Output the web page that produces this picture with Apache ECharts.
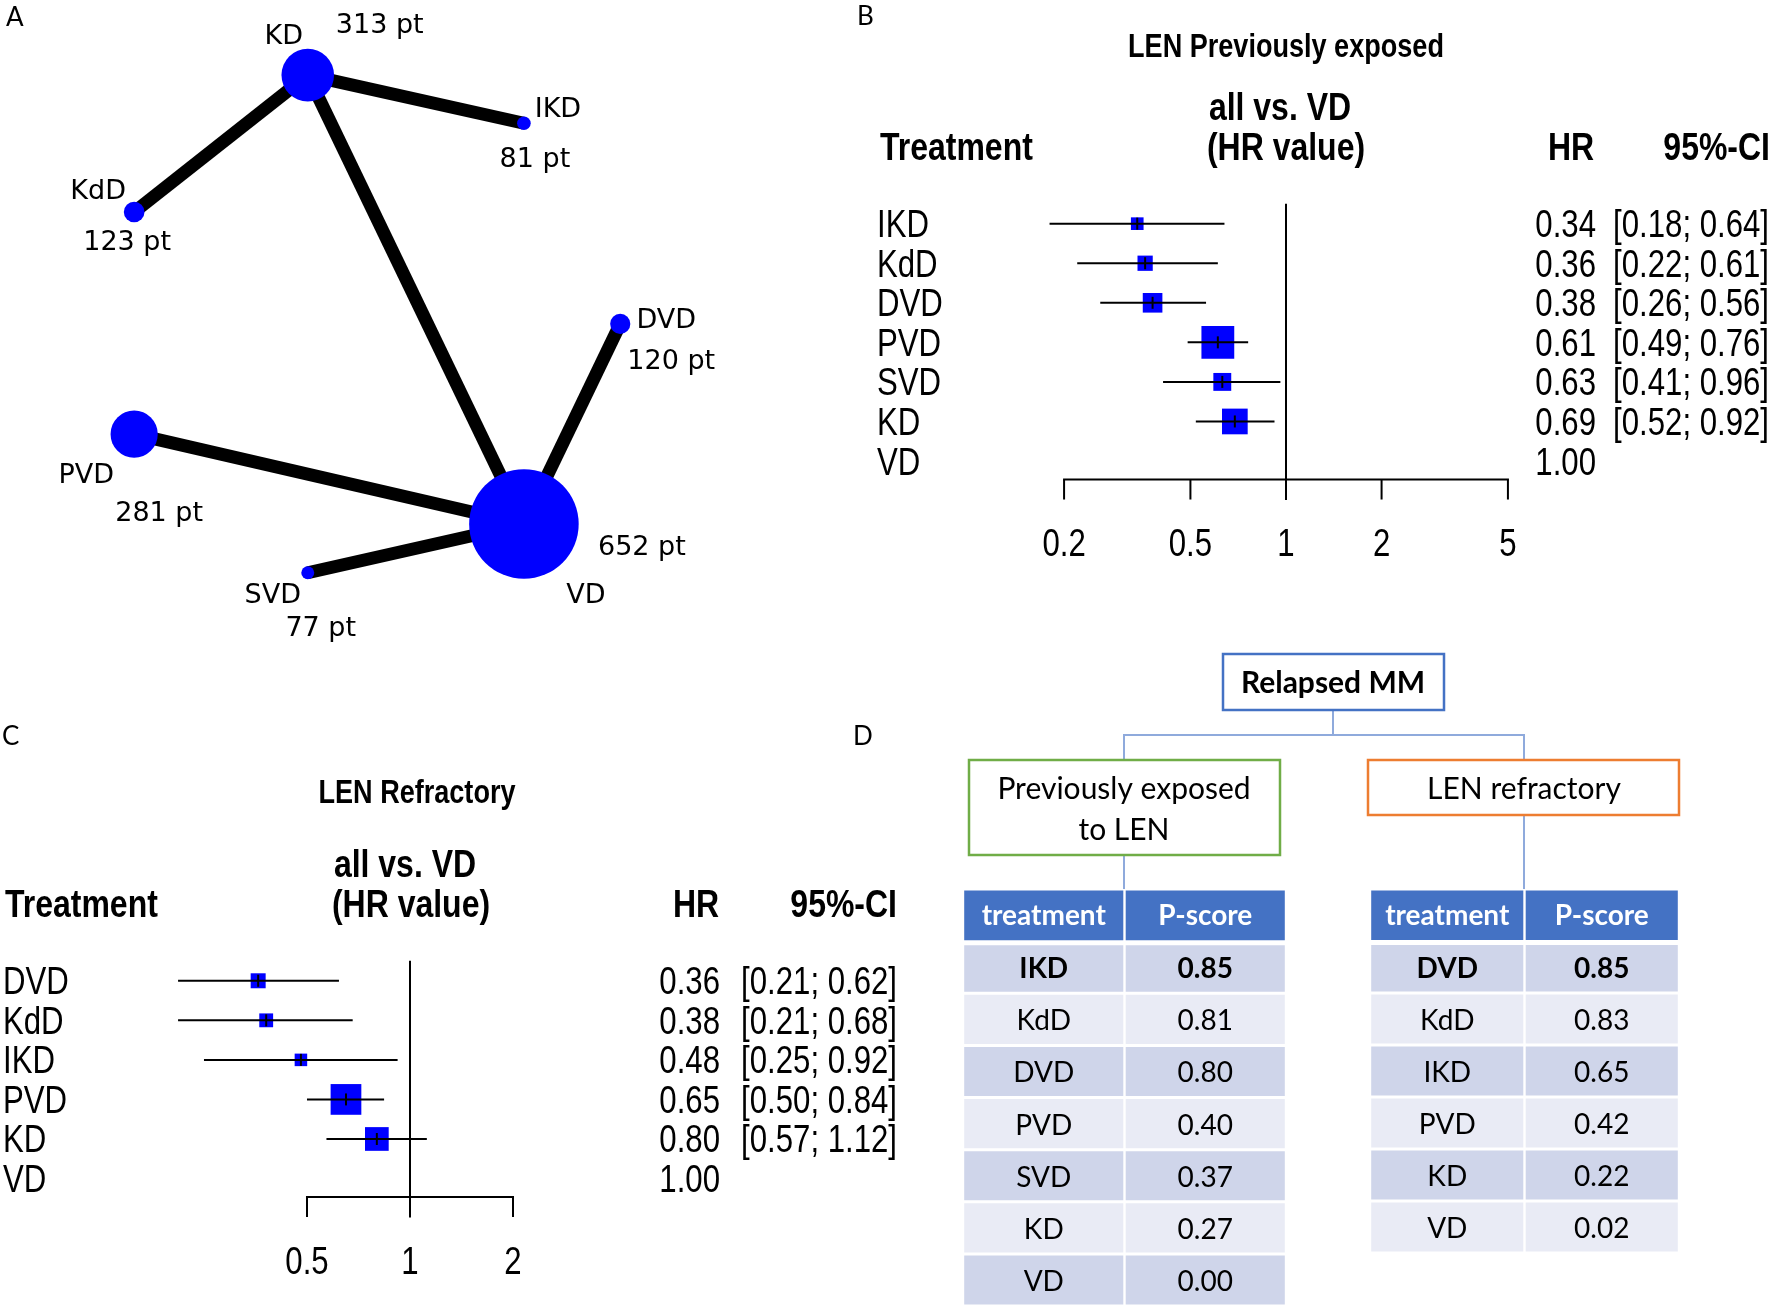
<!DOCTYPE html>
<html><head><meta charset="utf-8">
<script src="https://cdn.jsdelivr.net/npm/echarts@6/dist/echarts.min.js"></script>
<style>html,body{margin:0;padding:0;background:#fff}#c{width:1772px;height:1306px}</style>
</head><body><div id="c"></div><script>
// ---------- DATA ----------
// Panel A: network
const netNodes = ['KD','IKD','KdD','DVD','PVD','VD','SVD'];
const netPatients = [313, 81, 123, 120, 281, 652, 77];
const netX = [3.71, 7.57, 0.61, 9.29, 0.61, 7.57, 3.71];   // layout units
const netY = [0.95, 1.78, 3.31, 5.24, 7.14, 8.69, 9.53];
const netEdges = [['KD','IKD'],['KD','KdD'],['KD','VD'],['VD','DVD'],['VD','PVD'],['VD','SVD']];

// Panel B: LEN previously exposed
const expTreat = ['IKD','KdD','DVD','PVD','SVD','KD','VD'];
const expHR    = [0.34, 0.36, 0.38, 0.61, 0.63, 0.69, 1.00];
const expLower = [0.18, 0.22, 0.26, 0.49, 0.41, 0.52, null];
const expUpper = [0.64, 0.61, 0.56, 0.76, 0.96, 0.92, null];
const expTicks = [0.2, 0.5, 1, 2, 5];

// Panel C: LEN refractory
const refTreat = ['DVD','KdD','IKD','PVD','KD','VD'];
const refHR    = [0.36, 0.38, 0.48, 0.65, 0.80, 1.00];
const refLower = [0.21, 0.21, 0.25, 0.50, 0.57, null];
const refUpper = [0.62, 0.68, 0.92, 0.84, 1.12, null];
const refTicks = [0.5, 1, 2];

// Panel D: P-score tables
const tableHeader = ['treatment', 'P-score'];
const expRankTreat = ['IKD','KdD','DVD','PVD','SVD','KD','VD'];
const expPScore    = [0.85, 0.81, 0.80, 0.40, 0.37, 0.27, 0.00];
const refRankTreat = ['DVD','KdD','IKD','PVD','KD','VD'];
const refPScore    = [0.85, 0.83, 0.65, 0.42, 0.22, 0.02];

// ---------- STYLE ----------
const ARIAL = "'Liberation Sans',Arial,sans-serif";
const NARROW_SX = 0.82;              // Arial Narrow ~ Arial squeezed horizontally
const NETF = "'DejaVu Sans',sans-serif";
const TABF = "Lato,'Noto Sans',sans-serif";
const TXT = '#000';
const TY = 3;                        // baseline nudge for forest text
const netLabelOffset = {
  KD:[[-24,-38],[72,-49]], IKD:[[34,-13],[11,37]], KdD:[[-36,-20],[-7,31]],
  DVD:[[46,-3],[51,38]], PVD:[[-48,42],[25,80]], VD:[[62,72],[118,24]], SVD:[[-35,23],[13,56]]
};

const chart = echarts.init(document.getElementById('c'), null, {renderer:'canvas'});
const grids = [], xAxes = [], yAxes = [], series = [];

function ntext(x, y, t, size, align, bold){
  return {type:'text', x:x, y:y, scaleX:NARROW_SX, scaleY:1,
    style:{text:t, font:(bold?'bold ':'')+size+'px '+ARIAL, fill:TXT, align:align, verticalAlign:'middle'}};
}

// ---------- Panel A ----------
grids.push({left:100, top:20, width:560, height:580});
xAxes.push({gridIndex:0, type:'value', min:0, max:10, show:false});
yAxes.push({gridIndex:0, type:'value', min:0, max:10, inverse:true, show:false});
const pos = {};
netNodes.forEach((n,i)=>{ pos[n] = [netX[i], netY[i]]; });
series.push({
  type:'lines', coordinateSystem:'cartesian2d', xAxisIndex:0, yAxisIndex:0, z:1, silent:true,
  lineStyle:{color:'#000', width:13, opacity:1, cap:'butt'},
  data: netEdges.map(e=>({coords:[pos[e[0]], pos[e[1]]]}))
});
series.push({
  type:'scatter', xAxisIndex:0, yAxisIndex:0, z:3, silent:true,
  itemStyle:{color:'#0000ff', opacity:1},
  data: netNodes.map((n,i)=>({
    name:n, value:[netX[i], netY[i]], symbolSize: netPatients[i]*0.168,
    label:{show:true, position:'inside', offset:netLabelOffset[n][0], formatter:n,
      fontFamily:NETF, fontSize:27, color:TXT, align:'center', verticalAlign:'middle'}
  }))
});
series.push({
  type:'scatter', xAxisIndex:0, yAxisIndex:0, z:4, silent:true,
  itemStyle:{color:'rgba(0,0,0,0)', opacity:1},
  data: netNodes.map((n,i)=>({
    name:n, value:[netX[i], netY[i]], symbolSize:1,
    label:{show:true, position:'inside', offset:netLabelOffset[n][1], formatter: netPatients[i]+' pt',
      fontFamily:NETF, fontSize:27, color:TXT, align:'center', verticalAlign:'middle'}
  }))
});

// ---------- Forest panels ----------
function forest(o){
  const gi = grids.length;
  grids.push(o.grid);
  xAxes.push({gridIndex:gi, type:'log', logBase:10, min:0.1, max:10, show:false});
  yAxes.push({gridIndex:gi, type:'category', data:o.treat, inverse:true, show:false});
  const n = o.treat.length;
  const sq = [], ci = [];
  o.treat.forEach((t,i)=>{
    if (o.lo[i] != null){
      const se = (Math.log(o.hi[i]) - Math.log(o.lo[i]))/(2*1.96);
      const s = o.k/se + o.k0;
      sq.push([o.hr[i], i, s]);
      ci.push([o.lo[i], o.hi[i], i, o.hr[i], s]);
    }
  });
  // reference line at 1
  series.push({type:'custom', xAxisIndex:gi, yAxisIndex:gi, z:1, silent:true, clip:false,
    data:[[1]],
    renderItem:(p,api)=>{
      const top = api.coord([1,0]); const bot = api.coord([1,n-1]);
      return {type:'line', shape:{x1:top[0], y1:top[1]-20, x2:top[0], y2:bot[1]+39},
        style:{stroke:'#000', lineWidth:2}};
    }});
  // squares
  series.push({type:'custom', xAxisIndex:gi, yAxisIndex:gi, z:2, silent:true, clip:false,
    data:sq,
    renderItem:(p,api)=>{
      const c = api.coord([api.value(0), api.value(1)]); const s = api.value(2);
      return {type:'rect', shape:{x:c[0]-s/2, y:c[1]-s/2, width:s, height:s}, style:{fill:'#0000ff'}};
    }});
  // CI lines + estimate tick
  series.push({type:'custom', xAxisIndex:gi, yAxisIndex:gi, z:3, silent:true, clip:false,
    data:ci,
    renderItem:(p,api)=>{
      const a = api.coord([api.value(0), api.value(2)]);
      const b = api.coord([api.value(1), api.value(2)]);
      const m = api.coord([api.value(3), api.value(2)]);
      const th = Math.min(api.value(4), 12)/2;
      return {type:'group', children:[
        {type:'line', shape:{x1:a[0], y1:a[1], x2:b[0], y2:b[1]}, style:{stroke:'#000', lineWidth:2}},
        {type:'line', shape:{x1:m[0], y1:m[1]-th, x2:m[0], y2:m[1]+th}, style:{stroke:'#000', lineWidth:2}}
      ]};
    }});
  // axis
  series.push({type:'custom', xAxisIndex:gi, yAxisIndex:gi, z:2, silent:true, clip:false,
    data:o.ticks.map(t=>[t]),
    renderItem:(p,api)=>{
      const c = api.coord([api.value(0), n-1]);
      const y0 = c[1]+18.5;
      const kids = [
        {type:'line', shape:{x1:c[0], y1:y0, x2:c[0], y2:y0+20}, style:{stroke:'#000', lineWidth:2}},
        ntext(c[0], y0+66, String(api.value(0)), 38, 'center')
      ];
      if (p.dataIndex === 0){
        const e = api.coord([o.ticks[o.ticks.length-1], n-1]);
        kids.push({type:'line', shape:{x1:c[0]-1, y1:y0, x2:e[0]+1, y2:y0}, style:{stroke:'#000', lineWidth:2}});
      }
      return {type:'group', children:kids};
    }});
  // text columns: treatment, HR, CI
  series.push({type:'custom', xAxisIndex:gi, yAxisIndex:gi, z:2, silent:true, clip:false,
    data:o.treat.map((t,i)=>[1,i]),
    renderItem:(p,api)=>{
      const i = api.value(1); const c = api.coord([1,i]);
      const y = c[1] + TY;
      const kids = [
        ntext(o.nameLeft, y, o.treat[i], 38, 'left'),
        ntext(o.hrRight, y, o.hr[i].toFixed(2), 38, 'right')
      ];
      if (o.lo[i] != null){
        kids.push(ntext(o.ciRight, y, '['+o.lo[i].toFixed(2)+'; '+o.hi[i].toFixed(2)+']', 38, 'right'));
      }
      return {type:'group', children:kids};
    }});
}

forest({grid:{left:968.5, top:203.9, width:635, height:276.9}, treat:expTreat, hr:expHR, lo:expLower, hi:expUpper,
  ticks:expTicks, k:3.45, k0:2, nameLeft:877, hrRight:1596, ciRight:1769});
forest({grid:{left:67.8, top:961.0, width:684.4, height:237.3}, treat:refTreat, hr:refHR, lo:refLower, hi:refUpper,
  ticks:refTicks, k:4.0, k0:0.5, nameLeft:3, hrRight:720, ciRight:897});

// ---------- Tables ----------
function table(gridPos, treat, scores){
  const gi = grids.length;
  grids.push(gridPos);
  xAxes.push({gridIndex:gi, type:'category', data:tableHeader, show:false});
  const rows = ['__header'].concat(treat);
  yAxes.push({gridIndex:gi, type:'category', data:rows, inverse:true, show:false});
  const cells = [];
  tableHeader.forEach((h,c)=>cells.push({value:[c,0], text:h, bold:true}));
  treat.forEach((t,i)=>{
    cells.push({value:[0,i+1], text:t, bold:i===0});
    cells.push({value:[1,i+1], text:scores[i].toFixed(2), bold:i===0});
  });
  series.push({type:'custom', xAxisIndex:gi, yAxisIndex:gi, z:2, silent:true, clip:false,
    data:cells.map(c=>c.value),
    renderItem:(p,api)=>{
      const col = api.value(0), row = api.value(1);
      const c = api.coord([col,row]); const sz = api.size([1,1]);
      const w = sz[0], h = sz[1];
      const cell = cells[p.dataIndex];
      const fill = row===0 ? '#4472C4' : (row%2===1 ? '#CFD5EA' : '#E9EBF5');
      const top = c[1]-h/2 + (row===1 ? 4 : 1.5);
      const bot = c[1]+h/2 - (row===0 ? 1 : 1.5);
      return {type:'group', children:[
        {type:'rect', shape:{x:c[0]-w/2+1.2, y:top, width:w-2.4, height:bot-top}, style:{fill:fill}},
        {type:'text', x:c[0], y:(row===0? c[1]+1 : c[1]+2), style:{text:cell.text, fill: row===0?'#fff':'#000',
          font:(cell.bold?'bold ':'')+'28px '+TABF, align:'center', verticalAlign:'middle'}}
      ]};
    }});
}
table({left:963, top:889, width:323, height:417}, expRankTreat, expPScore);
table({left:1370, top:889, width:309, height:364}, refRankTreat, refPScore);

// ---------- Annotations ----------
function txt(x,y,t,font,align){
  return {type:'text', x:x, y:y, silent:true, z:10,
    style:{text:t, font:font, fill:TXT, align:align||'center', verticalAlign:'middle'}};
}
function ntxtG(x,y,t,size,align){
  const e = ntext(x,y,t,size,align,true); e.silent = true; e.z = 10; return e;
}
const graphic = [
  txt(6,18,'A','26px '+TABF,'left'), txt(857,17,'B','26px '+TABF,'left'),
  txt(2,737,'C','26px '+TABF,'left'), txt(853,737,'D','26px '+TABF,'left'),
  // B headers
  ntxtG(1286,48,'LEN Previously exposed',33,'center'), ntxtG(1280,109,'all vs. VD',39,'center'),
  ntxtG(1286,149,'(HR value)',39,'center'),
  ntxtG(880,149,'Treatment',39,'left'), ntxtG(1571,149,'HR',39,'center'), ntxtG(1770,149,'95%-CI',39,'right'),
  // C headers
  ntxtG(417,794,'LEN Refractory',33,'center'), ntxtG(405,866,'all vs. VD',39,'center'),
  ntxtG(411,906,'(HR value)',39,'center'),
  ntxtG(5,906,'Treatment',39,'left'), ntxtG(696,906,'HR',39,'center'), ntxtG(897,906,'95%-CI',39,'right'),
  // D tree
  {type:'polyline', silent:true, shape:{points:[[1333,710],[1333,735]]}, style:{stroke:'#8FAADC', lineWidth:2, fill:null}},
  {type:'polyline', silent:true, shape:{points:[[1124,760],[1124,735],[1524,735],[1524,760]]}, style:{stroke:'#8FAADC', lineWidth:2, fill:null}},
  {type:'line', silent:true, shape:{x1:1124, y1:855, x2:1124, y2:889}, style:{stroke:'#8FAADC', lineWidth:2}},
  {type:'line', silent:true, shape:{x1:1524, y1:815, x2:1524, y2:889}, style:{stroke:'#8FAADC', lineWidth:2}},
  {type:'rect', silent:true, shape:{x:1223, y:654, width:221, height:56}, style:{fill:'#fff', stroke:'#4472C4', lineWidth:2.5}},
  txt(1333,683,'Relapsed MM','bold 30px '+TABF),
  {type:'rect', silent:true, shape:{x:969, y:760, width:311, height:95}, style:{fill:'#fff', stroke:'#70AD47', lineWidth:2.5}},
  txt(1124,789,'Previously exposed','30px '+TABF), txt(1124,830,'to LEN','30px '+TABF),
  {type:'rect', silent:true, shape:{x:1368, y:760, width:311, height:55}, style:{fill:'#fff', stroke:'#ED7D31', lineWidth:2.5}},
  txt(1524,789,'LEN refractory','30px '+TABF)
];

chart.setOption({
  animation:false, backgroundColor:'#fff',
  grid:grids, xAxis:xAxes, yAxis:yAxes, series:series, graphic:graphic
});
</script></body></html>
